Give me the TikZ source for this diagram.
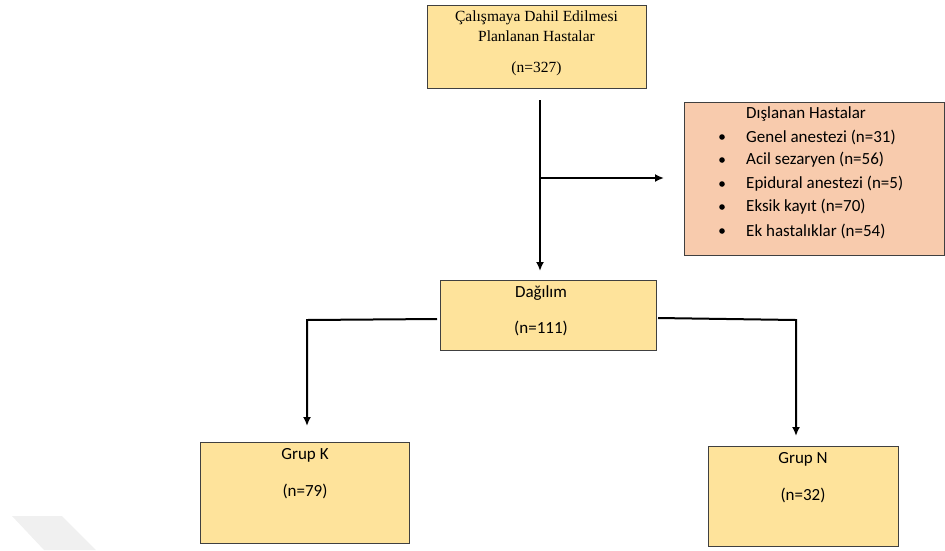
\documentclass[tikz,border=0pt]{standalone}
\usepackage{fontspec}
\setmainfont{Carlito}
\newfontfamily\serifbox{Liberation Serif}
\usetikzlibrary{arrows.meta}
\definecolor{boxyellow}{HTML}{FEE39B}
\definecolor{boxpeach}{HTML}{F8CBAD}
\definecolor{wmgray}{HTML}{F0F0F0}
\tikzset{
  flowbox/.style={draw=black!75, line width=0.9pt, fill=boxyellow, anchor=north west, inner sep=0pt},
  conn/.style={line width=2pt, -{Latex[length=9pt,width=8pt]}},
  txt/.style={font=\fontsize{17}{20}\selectfont, inner sep=0pt},
  stxt/.style={font=\serifbox\fontsize{15.5}{18}\selectfont, inner sep=0pt},
}
\begin{document}
\begin{tikzpicture}[x=1pt,y=-1pt]
\useasboundingbox (0,0) rectangle (945,550);
% faint watermark
\fill[wmgray] (12,516) -- (62,516) -- (96,550) -- (44,550) -- cycle;

% boxes
\node[flowbox, minimum width=219pt, minimum height=83pt] (top) at (427,5) {};
\node[stxt] (t1) at (536.5,18) {Çalışmaya Dahil Edilmesi};
\node[stxt] (t2) at (536.5,36) {Planlanan Hastalar};
\node[stxt] (t3) at (536.5,69) {(n=327)};

\node[flowbox, fill=boxpeach, minimum width=260pt, minimum height=153pt] (exc) at (684,102) {};
\node[txt, anchor=west] (e0) at (746,114) {Dışlanan Hastalar};
\foreach \y/\s/\k in {137/Genel anestezi (n=31)/1, 160/Acil sezaryen (n=56)/2, 184/Epidural anestezi (n=5)/3, 207/Eksik kayıt (n=70)/4, 231/Ek hastalıklar (n=54)/5}{
  \node[txt, anchor=west] (e\k) at (746,\y) {\s};
  \fill (722,\y) circle (2.8pt);
}

\node[flowbox, minimum width=216pt, minimum height=70pt] (dag) at (440,280) {};
\node[txt] (d1) at (541,293) {Dağılım};
\node[txt] (d2) at (541,328) {(n=111)};

\node[flowbox, minimum width=209pt, minimum height=101pt] (gk) at (200,442) {};
\node[txt] (k1) at (305,455) {Grup K};
\node[txt] (k2) at (305,491) {(n=79)};

\node[flowbox, minimum width=190pt, minimum height=100pt] (gn) at (708,446) {};
\node[txt] (n1) at (803,459) {Grup N};
\node[txt] (n2) at (803,495) {(n=32)};

% connector points
\coordinate (vs) at (540,100);
\coordinate (ve) at (540,271);
\coordinate (hs) at (540,178);
\coordinate (he) at (664,178);
\coordinate (ls) at (437,319);
\coordinate (lb) at (307,320);
\coordinate (le) at (307,426);
\coordinate (rs) at (658,318);
\coordinate (rb) at (796,320);
\coordinate (re) at (796,436);

\draw[conn] (vs) -- (ve);
\draw[conn] (hs) -- (he);
\draw[conn] (ls) -- (lb) -- (le);
\draw[conn] (rs) -- (rb) -- (re);
\end{tikzpicture}
\end{document}
